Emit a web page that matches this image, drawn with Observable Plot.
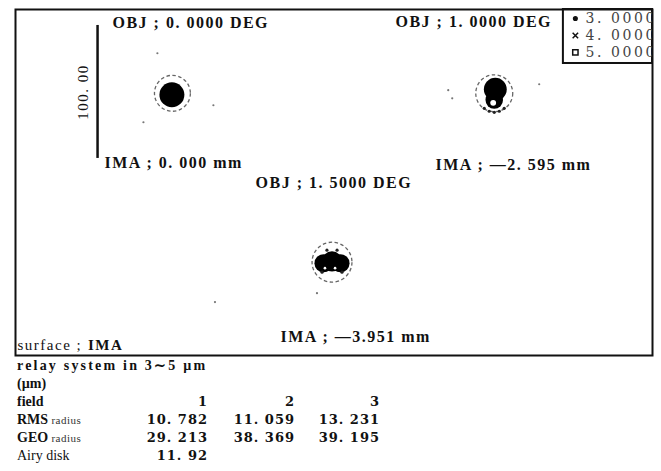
<!DOCTYPE html>
<html>
<head>
<meta charset="utf-8">
<script src="https://cdn.jsdelivr.net/npm/d3@7"></script>
<script src="https://cdn.jsdelivr.net/npm/@observablehq/plot@0.6"></script>
<style>
  html, body { margin: 0; padding: 0; background: #fff; }
  #wrap { width: 661px; }
  #chart svg { display: block; }
  #info { padding-left: 17px; font-family: "Liberation Serif", "Times New Roman", serif; color: #111; font-size: 14px; line-height: 18px; }
  #info .title { font-weight: bold; letter-spacing: 2.2px; }
  #info .row { display: grid; grid-template-columns: 120px 71px 87px 85px; }
  #info .lab { font-weight: bold; }
  #info .lab small { font-weight: normal; font-size: 11px; color: #333; letter-spacing: 0.5px; }
  #info .lab.plain { font-weight: normal; }
  #info .num { text-align: right; font-family: "DejaVu Serif", serif; font-weight: bold; font-size: 13px; letter-spacing: 1px; }
</style>
</head>
<body>
<div id="wrap">
  <div id="chart"></div>
  <div id="info"></div>
</div>
<script>
// ---------------- data ----------------
const fields = [1, 2, 3];
const objAngles = ["0. 0000", "1. 0000", "1. 5000"];      // DEG
const imaHeights = ["0. 000", "—2. 595", "—3.951"];        // mm
const rmsRadius = ["10. 782", "11. 059", "13. 231"];       // µm
const geoRadius = ["29. 213", "38. 369", "39. 195"];       // µm
const airyDisk = "11. 92";                                  // µm
const wavelengths = ["3. 0000", "4. 0000", "5. 0000"];      // µm
const scaleBarLength = 100;                                 // µm
const scaleBarText = "100. 00";
const surfaceName = "IMA";
const systemTitle = "relay system in 3∼5 µm";

// spot centres on the diagram plane (µm)
const spotCenterX = [118, 360, 238];
const spotCenterY = [63, 63, 190];
// outer (dashed) ray ring radius per field (µm)
const ringRadius = [13.5, 13.9, 15.0];
// dense ray cores: field, offset x, offset y, radius (µm)
const coreField = [1, 2, 2, 3, 3, 3];
const coreDx    = [-0.4, 0.8, 0.0, -6.4, 0.0, 6.4];
const coreDy    = [1.1, -3.0, 5.0, 0.8, -0.6, 0.8];
const coreR     = [9.4, 8.6, 6.6, 6.8, 7.6, 6.8];
// ray-free holes inside the cores
const holeField = [2, 3, 3];
const holeDx    = [-0.8, -5.3, 2.3];
const holeDy    = [7.2, 4.5, 4.5];
const holeR     = [2.2, 1.0, 1.0];
// small ray clusters around the cores
const clusterField = [2, 2, 2, 2, 2, 3, 3, 3, 3];
const clusterDx    = [-7.5, -3.8, 0.0, 3.8, 7.5, -3.8, 3.8, -7.5, 7.5];
const clusterDy    = [11.3, 13.5, 14.3, 13.5, 11.3, -9.0, -9.0, 7.5, 7.5];
// stray single rays
const strayField = [1, 1, 1, 2, 2, 2, 3, 3];
const strayDx    = [-11.3, 30.8, -21.8, -34.6, -31.6, 33.8, -88.0, -11.3];
const strayDy    = [-30.1, 9.0, 21.8, -2.3, 3.8, -6.8, 30.0, 23.3];

// ---------------- layout (µm on the diagram plane) ----------------
const W = 661, H = 357, mL = 15, mR = 9, mT = 9, mB = 2;
const xSpan = 479;
const pxPerUm = (W - mL - mR) / xSpan;
const ySpan = (H - mT - mB) / pxPerUm;
const objLabelX = [72.9, 285.7, 180.5], objLabelY = [9.8, 9.4, 130.1];
const imaLabelX = [66.9, 315.8, 199.2], imaLabelY = [115.0, 116.5, 245.9];
const scaleBarX = 61.7, scaleBarTop = 12.0, scaleLabelX = 51.1;
const legendX1 = 412, legendY2 = 40.6, legendSymX = 421, legendTextX = 428.6;
const legendRowY = [6.8, 19.5, 32.3];
const surfaceX = 1.5, surfaceIMAX = 54.5, surfaceY = 252.6;
const legendSymbols = ["circle", "times", "square"];

const spots = fields.map((f, i) => ({f, x: spotCenterX[i], y: spotCenterY[i], r: ringRadius[i] * pxPerUm}));
const at = (fArr, dx, dy, rr) => fArr.map((f, i) => ({
  x: spotCenterX[f - 1] + dx[i], y: spotCenterY[f - 1] + dy[i], r: rr ? rr[i] * pxPerUm : undefined
}));
const cores = at(coreField, coreDx, coreDy, coreR);
const holes = at(holeField, holeDx, holeDy, holeR);
const clusters = at(clusterField, clusterDx, clusterDy);
const strays = at(strayField, strayDx, strayDy);
const objLabels = fields.map((f, i) => ({x: objLabelX[i], y: objLabelY[i], t: `OBJ ; ${objAngles[i]} DEG`}));
const imaLabels = fields.map((f, i) => ({x: imaLabelX[i], y: imaLabelY[i], t: `IMA ; ${imaHeights[i]} mm`}));
const legend = wavelengths.map((w, i) => ({w, y: legendRowY[i], s: legendSymbols[i]}));

const font = "'Liberation Serif', 'Times New Roman', serif";
const chart = Plot.plot({
  width: W, height: H,
  marginLeft: mL, marginRight: mR, marginTop: mT, marginBottom: mB,
  x: {domain: [0, xSpan], axis: null},
  y: {domain: [0, ySpan], reverse: true, axis: null},
  r: {type: "identity"},
  style: {fontFamily: font, background: "#fff", color: "#111", letterSpacing: "1.5px", overflow: "visible"},
  marks: [
    Plot.frame({stroke: "#111", strokeWidth: 2}),
    Plot.rect([0], {x1: () => legendX1, x2: () => xSpan, y1: () => 0, y2: () => legendY2, fill: "none", stroke: "#111", strokeWidth: 2}),
    Plot.dot(spots, {x: "x", y: "y", r: "r", fill: "none", stroke: "#666", strokeWidth: 1.3, strokeDasharray: "3.5 2.5"}),
    Plot.dot(cores, {x: "x", y: "y", r: "r", fill: "#000", stroke: "none"}),
    Plot.dot(holes, {x: "x", y: "y", r: "r", fill: "#fff", stroke: "none"}),
    Plot.dot(clusters, {x: "x", y: "y", r: 1.6, fill: "#222", stroke: "none"}),
    Plot.dot(strays, {x: "x", y: "y", r: 1.1, fill: "#777", stroke: "none"}),
    Plot.ruleX([scaleBarLength], {x: () => scaleBarX, y1: () => scaleBarTop, y2: d => scaleBarTop + d, stroke: "#111", strokeWidth: 2.5}),
    Plot.text([scaleBarText], {x: () => scaleLabelX, y: () => scaleBarTop + scaleBarLength / 2, text: d => d, rotate: -90, fontSize: 15, fill: "#111"}),
    Plot.text(objLabels, {x: "x", y: "y", text: "t", textAnchor: "start", fontSize: 16, fontWeight: "bold", fill: "#111"}),
    Plot.text(imaLabels, {x: "x", y: "y", text: "t", textAnchor: "start", fontSize: 16, fontWeight: "bold", fill: "#111"}),
    Plot.text(["surface ;"], {x: () => surfaceX, y: () => surfaceY, text: d => d, textAnchor: "start", fontSize: 15, fill: "#111"}),
    Plot.text([surfaceName], {x: () => surfaceIMAX, y: () => surfaceY, text: d => d, textAnchor: "start", fontSize: 15, fontWeight: "bold", fill: "#111"}),
    Plot.dot(legend, {x: () => legendSymX, y: "y", symbol: "s", r: (d, i) => [1.8, 2.6, 3][i], fill: (d, i) => ["#111", "none", "#fff"][i], stroke: "#111", strokeWidth: 1.5}),
    Plot.text(legend, {x: () => legendTextX, y: "y", text: "w", textAnchor: "start", fontFamily: "'DejaVu Serif', serif", fontSize: 14, fill: "#444", clip: true})
  ]
});
document.getElementById("chart").appendChild(chart);
chart.querySelectorAll("text").forEach(t => {
  const g = t.closest("g");
  const ff = (g && g.getAttribute("font-family")) || t.getAttribute("font-family") || "";
  if (ff.includes("DejaVu")) t.style.letterSpacing = "2.6px";
});

// ---------------- text block below the diagram ----------------
const info = d3.select("#info");
info.append("div").attr("class", "title").text(systemTitle);
info.append("div").attr("class", "lab").text("(µm)");
const rows = [
  {lab: "field", cls: "lab", vals: fields.map(String)},
  {lab: "RMS", small: " radius", cls: "lab", vals: rmsRadius},
  {lab: "GEO", small: " radius", cls: "lab", vals: geoRadius},
  {lab: "Airy disk", cls: "lab plain", vals: [airyDisk]}
];
rows.forEach(r => {
  const row = info.append("div").attr("class", "row");
  const l = row.append("div").attr("class", r.cls).text(r.lab);
  if (r.small) l.append("small").text(r.small);
  r.vals.forEach(v => row.append("div").attr("class", "num").text(v));
});
</script>
</body>
</html>
